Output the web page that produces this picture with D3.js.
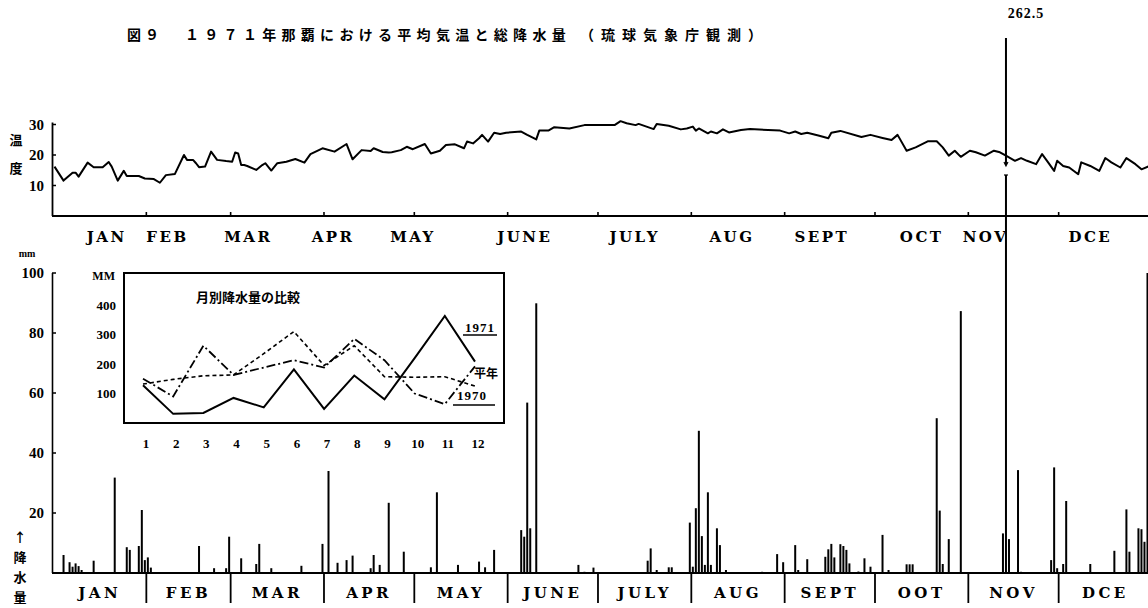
<!DOCTYPE html>
<html>
<head>
<meta charset="utf-8">
<script src="https://cdn.jsdelivr.net/npm/d3@7"></script>
<style>
  html, body { margin: 0; padding: 0; background: #fff; }
  svg { display: block; }
  .lab { font-family: "DejaVu Serif", "Liberation Serif", serif; font-weight: bold; fill: #000; }
  .num { font-family: "Liberation Serif", "DejaVu Serif", serif; font-weight: bold; fill: #000; }
  .jp { font-family: "Noto Sans CJK JP", sans-serif; font-weight: bold; fill: #000; }
</style>
</head>
<body>
<svg id="chart" width="1148" height="608"></svg>
<script>
// ---- data -------------------------------------------------------------
const monthNamesTop    = ["JAN","FEB","MAR","APR","MAY","JUNE","JULY","AUG","SEPT","OCT","NOV","DCE"];
const monthNamesBottom = ["JAN","FEB","MAR","APR","MAY","JUNE","JULY","AUG","SEPT","OOT","NOV","DCE"];
const tempTicks  = [10, 20, 30];
const rainTicks  = [20, 40, 60, 80, 100];
const insetTicks = [100, 200, 300, 400];
const insetMonths = [1,2,3,4,5,6,7,8,9,10,11,12];

// daily mean temperature (°C), day of year
const tempDays = [1,4,7,8,9,12,14,17,19,20,22,24,25,29,31,34,36,38,41,44,45,47,48,49,51,53,55,58,60,61,62,63,64,65,68,70,71,73,75,78,81,84,86,90,94,98,100,103,106,107,110,112,113,116,118,120,124,126,129,131,134,137,138,140,142,143,145,147,149,151,156,158,161,162,165,167,172,177,181,187,189,191,194,195,200,201,205,209,211,213,214,215,218,219,221,223,225,229,232,238,242,245,247,249,251,255,258,259,262,269,272,276,279,281,284,287,291,294,296,298,300,302,305,307,310,313,315,317,320,322,324,327,329,331,333,334,336,338,341,342,345,348,350,352,355,357,360,362,365];
const tempValues = [16.2,11.6,14.2,14.2,12.9,17.5,16.0,16.0,17.7,16.2,11.6,14.8,13.1,13.1,12.3,12.1,10.9,13.4,13.8,20.0,18.4,18.4,17.3,16.0,16.2,21.1,18.4,18.0,17.8,20.8,20.5,16.7,16.7,16.4,15.1,16.7,17.3,14.9,17.3,17.8,18.7,17.5,20.3,22.2,21.1,23.6,18.6,21.6,21.3,22.2,21.0,20.8,20.9,21.6,22.7,21.9,23.6,20.5,21.4,23.3,23.5,22.2,24.4,23.8,25.5,26.6,24.4,27.3,26.9,27.3,27.7,26.6,25.1,28.0,28.0,29.1,28.7,29.8,29.8,29.8,31.1,30.4,29.8,30.2,28.5,30.2,29.6,28.4,28.7,29.3,28.0,28.7,27.1,27.7,27.1,28.4,27.4,28.2,28.5,28.2,28.0,27.1,27.7,26.9,27.3,26.3,25.5,27.3,27.9,25.9,26.6,25.6,24.9,26.6,21.4,22.5,24.5,24.5,22.5,19.8,21.4,19.4,21.4,20.9,19.8,21.4,20.9,19.8,18.1,19.0,18.1,17.0,20.3,17.6,14.8,18.1,16.4,15.9,13.7,17.6,16.4,14.8,19.0,17.6,15.9,19.0,17.0,15.3,16.5];

// daily precipitation (mm)
const rainDates = ["01-04","01-06","01-07","01-08","01-09","01-10","01-14","01-21","01-25","01-26","01-29","01-30","01-31",
  "02-01","02-02","02-18","02-23","02-27","02-28",
  "03-04","03-09","03-10","03-14","03-24","03-31",
  "04-02","04-05","04-08","04-10","04-16","04-17","04-19","04-22","04-27",
  "05-06","05-08","05-15","05-22","05-24","05-27",
  "06-05","06-06","06-07","06-08","06-10","06-24","06-26","06-29",
  "07-09","07-17","07-18","07-20","07-24","07-25","07-31",
  "08-01","08-02","08-03","08-04","08-05","08-06","08-07","08-09","08-10","08-12","08-24","08-29","08-31",
  "09-04","09-05","09-08","09-14","09-15","09-16","09-17","09-19","09-20","09-21","09-22","09-25","09-27","09-29",
  "10-03","10-05","10-11","10-12","10-13","10-21","10-22","10-23","10-25","10-29",
  "11-12","11-13","11-14","11-17","11-18","11-28","11-29","11-30",
  "12-02","12-03","12-11","12-19","12-23","12-24","12-27","12-28","12-29","12-30"];
const rainValues = [6.0,3.6,2.1,3.2,2.3,1.0,4.1,31.8,8.6,7.7,9.0,21.0,4.3,
  5.2,1.8,9.0,1.6,1.6,12.1,
  4.9,3.0,9.7,1.6,2.4,9.7,
  34.0,3.4,4.3,5.8,1.6,6.0,2.7,23.4,7.1,
  1.9,26.9,2.7,3.8,1.9,7.7,
  14.3,12.1,56.8,14.9,89.9,2.7,0.4,1.8,
  0.3,4.1,8.2,1.0,1.9,1.9,16.8,
  2.1,21.6,47.4,12.3,2.7,26.9,2.7,14.9,9.3,1.0,0.4,6.3,3.6,
  9.3,1.0,4.6,5.4,7.9,9.7,5.2,9.6,9.0,7.7,3.2,0.5,4.9,2.1,
  12.7,1.0,2.9,2.9,2.9,51.6,20.8,3.0,11.3,87.3,
  13.2,262.5,11.3,34.3,0.4,4.3,35.2,1.6,
  3.0,24.0,3.0,7.4,21.2,7.1,14.9,14.6,10.4,100.0];

// monthly totals (mm) for the inset comparison
const rain1971   = [128, 31, 34, 85, 53, 182, 48, 161, 80, 220, 363, 208];
const rain1970   = [150, 90, 262, 163, 188, 213, 188, 285, 213, 100, 64, 192];
const rainNormal = [132, 148, 160, 163, 235, 310, 195, 262, 157, 155, 157, 125];

// ---- setup ------------------------------------------------------------
const YEAR = 1971;
const svg = d3.select("#chart");
const ink = "#000";

const x = d3.scaleTime()
  .domain([new Date(YEAR, 0, 1), new Date(YEAR + 1, 0, 1)])
  .range([53, 1152]);
const dayCenter = d => new Date(YEAR, 0, d, 12);
const mdCenter = s => { const [m, d] = s.split("-").map(Number); return new Date(YEAR, m - 1, d, 12); };
const monthStarts = d3.timeMonths(new Date(YEAR, 0, 1), new Date(YEAR + 1, 0, 1));
const monthEnd = i => i < 11 ? monthStarts[i + 1] : new Date(YEAR + 1, 0, 1);
const monthMid = i => new Date((+monthStarts[i] + +monthEnd(i)) / 2);

// ---- title ------------------------------------------------------------
svg.append("text").attr("class", "jp").attr("x", 127).attr("y", 40)
  .style("font-size", "14px").style("letter-spacing", "4px").text("図９");
svg.append("text").attr("class", "jp").attr("x", 185).attr("y", 40)
  .style("font-size", "14px").style("letter-spacing", "5.3px")
  .text("１９７１年那覇における平均気温と総降水量");
svg.append("text").attr("class", "jp").attr("x", 580).attr("y", 40)
  .style("font-size", "14px").style("letter-spacing", "7px")
  .text("（琉球気象庁観測）");

// ---- temperature panel ------------------------------------------------
const yT = d3.scaleLinear().domain([0, 30]).range([216, 124.5]);

svg.append("line").attr("x1", 52.5).attr("x2", 52.5).attr("y1", yT(30) - 2).attr("y2", 216)
  .attr("stroke", ink).attr("stroke-width", 1.8);
svg.append("line").attr("x1", 52).attr("x2", 1148).attr("y1", 216).attr("y2", 216)
  .attr("stroke", ink).attr("stroke-width", 2);

svg.selectAll(".tTick").data(tempTicks).join("line")
  .attr("x1", 52).attr("x2", 56).attr("y1", d => yT(d)).attr("y2", d => yT(d))
  .attr("stroke", ink).attr("stroke-width", 1.5);
svg.selectAll(".tLab").data(tempTicks).join("text").attr("class", "num")
  .attr("x", 44).attr("y", d => yT(d)).attr("dy", "0.35em").attr("text-anchor", "end")
  .style("font-size", "15px").text(d => d);

svg.append("text").attr("class", "jp").attr("x", 16).attr("y", 140).attr("dy", "0.35em")
  .attr("text-anchor", "middle").style("font-size", "13px").text("温");
svg.append("text").attr("class", "jp").attr("x", 16).attr("y", 168).attr("dy", "0.35em")
  .attr("text-anchor", "middle").style("font-size", "13px").text("度");

svg.selectAll(".mTickTop").data(monthStarts.slice(1)).join("line")
  .attr("x1", d => x(d)).attr("x2", d => x(d)).attr("y1", 216).attr("y2", 212)
  .attr("stroke", ink).attr("stroke-width", 1.6);

// the upper month captions are not centred on their months
const topLabelShift = { JAN: 7, FEB: -21, MAR: -29, APR: -36, MAY: -48, JUNE: -28,
                        JULY: -10, AUG: -6, SEPT: -8, OCT: 0, NOV: -28, DCE: -15 };
svg.selectAll(".mLabTop").data(monthNamesTop).join("text").attr("class", "lab")
  .attr("x", (d, i) => x(monthMid(i)) + (topLabelShift[d] || 0))
  .attr("y", 237).attr("dy", "0.35em").attr("text-anchor", "middle")
  .style("font-size", "15px").style("letter-spacing", "2.5px").text(d => d);

const tempSeries = tempDays.map((d, i) => [d, tempValues[i]]);
svg.append("path").datum(tempSeries)
  .attr("fill", "none").attr("stroke", ink).attr("stroke-width", 2)
  .attr("stroke-linejoin", "round")
  .attr("d", d3.line().x(d => x(dayCenter(d[0]))).y(d => yT(d[1])));

// ---- precipitation panel ----------------------------------------------
const yR = d3.scaleLinear().domain([0, 100]).range([573, 273]);
const overflowTop = 38;   // bars beyond the axis run up to here
const rainData = rainDates.map((s, i) => ({ date: mdCenter(s), value: rainValues[i] }));

svg.append("line").attr("x1", 52.5).attr("x2", 52.5).attr("y1", yR(100)).attr("y2", 573)
  .attr("stroke", ink).attr("stroke-width", 1.6);
svg.selectAll(".rTick").data(rainTicks).join("line")
  .attr("x1", 52).attr("x2", 56).attr("y1", d => yR(d)).attr("y2", d => yR(d))
  .attr("stroke", ink).attr("stroke-width", 1.5);
svg.selectAll(".rLab").data(rainTicks).join("text").attr("class", "num")
  .attr("x", 44).attr("y", d => yR(d)).attr("dy", "0.35em").attr("text-anchor", "end")
  .style("font-size", "15px").text(d => d);
svg.append("text").attr("class", "num").attr("x", 27).attr("y", 253).attr("dy", "0.35em")
  .attr("text-anchor", "middle").style("font-size", "10px").text("mm");

["↑", "降", "水", "量"].forEach((c, i) => {
  svg.append("text").attr("class", "jp").attr("x", 20).attr("y", 537 + i * 20).attr("dy", "0.35em")
    .attr("text-anchor", "middle").style("font-size", "13px").text(c);
});

svg.selectAll(".bar").data(rainData).join("rect")
  .attr("x", d => x(d.date) - 1).attr("width", 2)
  .attr("y", d => d.value > 100 ? overflowTop : yR(d.value))
  .attr("height", d => 573 - (d.value > 100 ? overflowTop : yR(d.value)))
  .attr("fill", ink);

// break mark where the over-range bar crosses the temperature panel, plus its value
const over = rainData.filter(d => d.value > 100);
over.forEach(d => {
  const cx = x(d.date);
  svg.append("rect").attr("x", cx - 3).attr("y", 165).attr("width", 6).attr("height", 10).attr("fill", "#fff");
  svg.append("path").attr("d", `M${cx - 2},162 L${cx},166 L${cx + 2},162`).attr("fill", "none")
    .attr("stroke", ink).attr("stroke-width", 1.2);
  svg.append("line").attr("x1", cx - 2).attr("x2", cx + 2).attr("y1", 175).attr("y2", 175)
    .attr("stroke", ink).attr("stroke-width", 1.2);
  svg.append("text").attr("class", "num").attr("x", cx + 20).attr("y", 13).attr("dy", "0.35em")
    .attr("text-anchor", "middle").style("font-size", "14px").style("letter-spacing", "1px")
    .text(d.value);
});

svg.append("line").attr("x1", 52).attr("x2", 1148).attr("y1", 573).attr("y2", 573)
  .attr("stroke", ink).attr("stroke-width", 2);
svg.selectAll(".sep").data(monthStarts.slice(1)).join("line")
  .attr("x1", d => x(d)).attr("x2", d => x(d)).attr("y1", 573).attr("y2", 603)
  .attr("stroke", ink).attr("stroke-width", 1.8);
svg.selectAll(".mLabBot").data(monthNamesBottom).join("text").attr("class", "lab")
  .attr("x", (d, i) => x(monthMid(i))).attr("y", 593).attr("dy", "0.35em")
  .attr("text-anchor", "middle").style("font-size", "15px").style("letter-spacing", "3.5px")
  .text(d => d);

// ---- inset: monthly totals ---------------------------------------------
const ix = d3.scaleLinear().domain([1, 12]).range([143, 475]);
const iy = d3.scaleLinear().domain([0, 400]).range([423, 305]);

svg.append("rect").attr("x", 124).attr("y", 273).attr("width", 380).attr("height", 150)
  .attr("fill", "#fff").attr("stroke", ink).attr("stroke-width", 2);

svg.append("text").attr("class", "num").attr("x", 115).attr("y", 276).attr("dy", "0.35em")
  .attr("text-anchor", "end").style("font-size", "12px").text("MM");
svg.selectAll(".iLab").data(insetTicks).join("text").attr("class", "num")
  .attr("x", 116).attr("y", d => iy(d)).attr("dy", "0.35em").attr("text-anchor", "end")
  .style("font-size", "13px").text(d => d);
svg.selectAll(".iMon").data(insetMonths).join("text").attr("class", "num")
  .attr("x", d => ix(d) + 3).attr("y", 443).attr("dy", "0.35em").attr("text-anchor", "middle")
  .style("font-size", "13px").text(d => d);

svg.append("text").attr("class", "jp").attr("x", 196).attr("y", 297).attr("dy", "0.35em")
  .style("font-size", "13px").text("月別降水量の比較");

const iLine = d3.line().x((d, i) => ix(insetMonths[i])).y(d => iy(d));
svg.append("path").datum(rainNormal).attr("d", iLine).attr("fill", "none")
  .attr("stroke", ink).attr("stroke-width", 1.6).attr("stroke-dasharray", "4,3");
svg.append("path").datum(rain1970).attr("d", iLine).attr("fill", "none")
  .attr("stroke", ink).attr("stroke-width", 1.8).attr("stroke-dasharray", "9,3,2,3");
svg.append("path").datum(rain1971).attr("d", iLine).attr("fill", "none")
  .attr("stroke", ink).attr("stroke-width", 2);

svg.append("text").attr("class", "num").attr("x", 480).attr("y", 327).attr("dy", "0.35em")
  .attr("text-anchor", "middle").style("font-size", "13px").style("letter-spacing", "1px").text("1971");
svg.append("line").attr("x1", 463).attr("x2", 497).attr("y1", 335).attr("y2", 335)
  .attr("stroke", ink).attr("stroke-width", 1.5);
svg.append("text").attr("class", "jp").attr("x", 474).attr("y", 374).attr("dy", "0.35em")
  .style("font-size", "12px").text("平年");
svg.append("text").attr("class", "num").attr("x", 472).attr("y", 395).attr("dy", "0.35em")
  .attr("text-anchor", "middle").style("font-size", "13px").style("letter-spacing", "1px").text("1970");
svg.append("line").attr("x1", 453).attr("x2", 495).attr("y1", 405).attr("y2", 405)
  .attr("stroke", ink).attr("stroke-width", 1.5);
</script>
</body>
</html>
